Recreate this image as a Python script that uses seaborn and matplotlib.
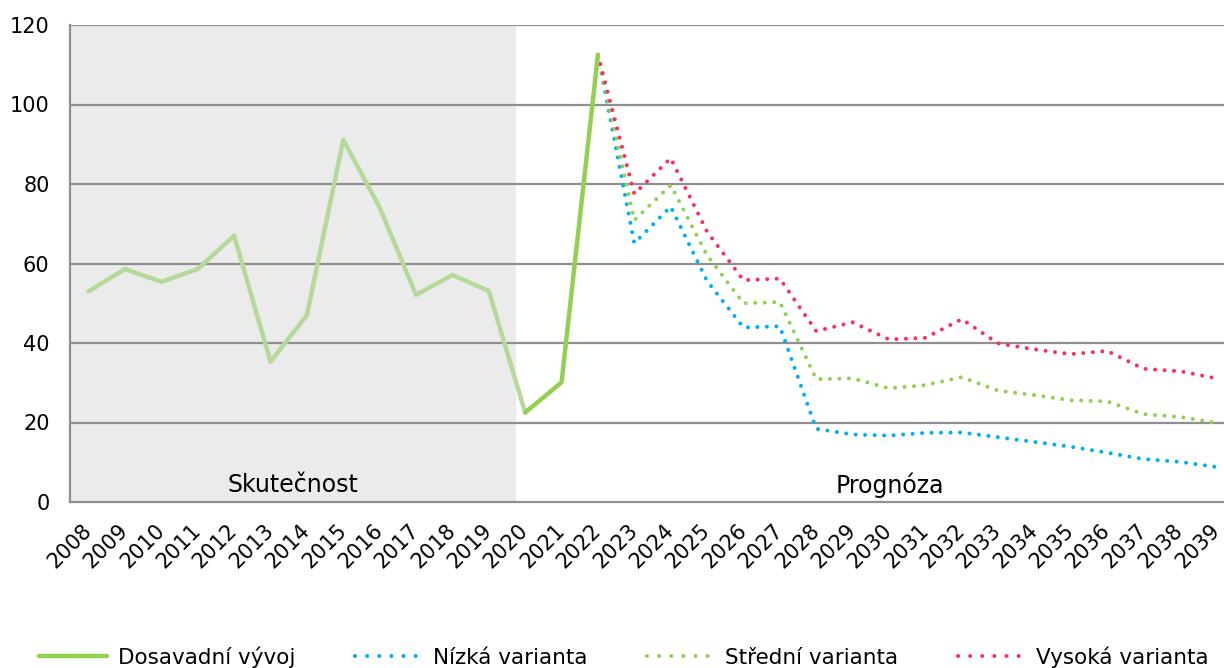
import numpy as np
import pandas as pd
import matplotlib
matplotlib.use("Agg")
import matplotlib.pyplot as plt
from matplotlib.lines import Line2D
import seaborn as sns

years = list(range(2008, 2040))

hist_years = list(range(2008, 2021))
hist_values = [53, 58.6, 55.4, 58.6, 67, 35.3, 47, 91.1, 74.1, 52.1, 57.1, 53.1, 22.5]

recent_years = [2020, 2021, 2022]
recent_values = [22.5, 30.1, 112.5]

fc_years = list(range(2022, 2040))
low_values = [112.5, 65.1, 74.3, 55.6, 43.9, 44.2, 18.4, 17.0, 16.7, 17.4, 17.5,
              16.3, 15.1, 13.9, 12.4, 10.8, 10.1, 8.8]
mid_values = [112.5, 70.9, 79.7, 62.1, 50.0, 50.3, 30.9, 31.1, 28.6, 29.4, 31.4,
              28.0, 26.9, 25.6, 25.3, 22.1, 21.4, 19.9]
high_values = [112.5, 77.5, 86.5, 68.0, 55.8, 56.2, 43.0, 45.2, 40.9, 41.3, 46.0,
               39.9, 38.4, 37.2, 38.0, 33.5, 32.9, 31.1]

labels = ["Dosavadní vývoj", "Nízká varianta", "Střední varianta", "Vysoká varianta"]

sns.set_style("white")
plt.rcParams['font.family'] = ['DejaVu Sans']
plt.rcParams['text.color'] = 'black'
plt.rcParams['xtick.labelcolor'] = 'black'
plt.rcParams['ytick.labelcolor'] = 'black'

c_hist = "#b6d99a"
c_green = "#92d050"
c_blue = "#00b0f0"
c_pink = "#ff2d5f"
grid_c = "#8f8f8f"

fig = plt.figure(figsize=(12.24, 6.68), dpi=100)
ax = fig.add_axes([70.4 / 1224, 166 / 668, (1234.6 - 70.4) / 1224, 477 / 668])

ax.axvspan(-0.5, 11.75, color="#ebebeb", zorder=0, lw=0)
for v in range(20, 121, 20):
    ax.axhline(v, color=grid_c, lw=1.6, zorder=1)

dot = (0, (0.01, 2.35))
lw = 2.9
pos = lambda ys: [y - 2008 for y in ys]

df_fc = pd.DataFrame({"x": pos(fc_years), "low": low_values,
                      "mid": mid_values, "high": high_values})
sns.lineplot(x=pos(hist_years), y=hist_values, ax=ax, color=c_hist, lw=3.2, zorder=3)
sns.lineplot(data=df_fc, x="x", y="low", ax=ax, color=c_blue, lw=lw,
             linestyle=dot, dash_capstyle="round", zorder=4)
sns.lineplot(data=df_fc, x="x", y="mid", ax=ax, color=c_green, lw=lw,
             linestyle=dot, dash_capstyle="round", zorder=5)
sns.lineplot(data=df_fc, x="x", y="high", ax=ax, color=c_pink, lw=lw,
             linestyle=dot, dash_capstyle="round", zorder=6)
sns.lineplot(x=pos(recent_years), y=recent_values, ax=ax, color=c_green, lw=3.2, zorder=7)

ax.set_xlim(-0.5, 31.5)
ax.set_ylim(0, 120)
ax.set_xlabel("")
ax.set_ylabel("")

ax.set_yticks(range(0, 121, 20))
ax.tick_params(axis="y", length=5, width=1.5, color=grid_c, pad=10, labelsize=15)

ax.set_xticks(range(len(years)))
ax.set_xticklabels([str(y) for y in years], rotation=45, ha="right",
                   va="center", rotation_mode="anchor")
ax.set_xticks(np.arange(-0.5, 31.6, 1), minor=True)
ax.tick_params(axis="x", which="major", length=0, pad=18, labelsize=15)
ax.tick_params(axis="x", which="minor", length=5, width=1.5, color=grid_c)

for side in ["top", "right"]:
    ax.spines[side].set_visible(False)
for side in ["left", "bottom"]:
    ax.spines[side].set_color(grid_c)
    ax.spines[side].set_linewidth(1.6)

ax.text(5.62, 4.3, "Skutečnost", ha="center", va="center", fontsize=17, zorder=8)
ax.text(22.03, 4.3, "Prognóza", ha="center", va="center", fontsize=17, zorder=8)

handles = [
    Line2D([], [], color=c_green, lw=3.2),
    Line2D([], [], color=c_blue, lw=lw, linestyle=(0, (0.01, 3)), dash_capstyle="round"),
    Line2D([], [], color=c_green, lw=lw, linestyle=(0, (0.01, 3)), dash_capstyle="round"),
    Line2D([], [], color=c_pink, lw=lw, linestyle=(0, (0.01, 3)), dash_capstyle="round"),
]
fig.legend(handles, labels, loc="center", bbox_to_anchor=(0.51, 1 - 657 / 668),
           ncol=4, frameon=False, fontsize=15.5, handlelength=3.15,
           handletextpad=0.5, columnspacing=2.75)

fig.savefig("out.png", dpi=100)
plt.close(fig)
